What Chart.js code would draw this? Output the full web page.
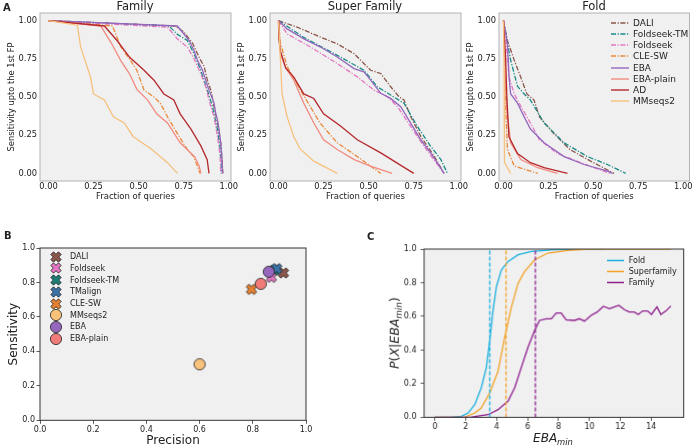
<!DOCTYPE html>
<html>
<head>
<meta charset="utf-8">
<script src="https://cdn.jsdelivr.net/npm/chart.js@4.4.1/dist/chart.umd.min.js"></script>
<style>
  body { margin: 0; background: #fff; font-family: "DejaVu Sans", sans-serif; color: #222; }
  #fig { position: relative; width: 700px; height: 447px; overflow: hidden; }
  .box { position: absolute; }
  .txt { position: absolute; white-space: nowrap; line-height: 1; }
  .ttl { position: absolute; white-space: nowrap; line-height: 1; font-size: 11.5px; top: 6.5px; transform: translate(-50%, -50%); }
  .row { position: absolute; display: flex; align-items: center; white-space: nowrap; transform: translateY(-50%); }
  sub { font-size: 70%; vertical-align: -0.3em; line-height: 0; }
</style>
</head>
<body>
<div id="fig">
  <div class="box" style="left:2.5px;top:0;width:238px;height:202px"><canvas id="cFamily"></canvas></div>
  <div class="box" style="left:232.5px;top:0;width:238px;height:202px"><canvas id="cSuper"></canvas></div>
  <div class="box" style="left:461.5px;top:0;width:237.5px;height:202px"><canvas id="cFold"></canvas></div>
  <div class="box" style="left:0;top:240.7px;width:316px;height:206.3px"><canvas id="cPrec"></canvas></div>
  <div class="box" style="left:396px;top:243.3px;width:296.7px;height:188.4px"><canvas id="cEba"></canvas></div>

  <div class="ttl" style="left:135px">Family</div>
  <div class="ttl" style="left:365px">Super Family</div>
  <div class="ttl" style="left:594px">Fold</div>
  <div class="txt" style="left:3px;top:3px;font-size:10px;font-weight:bold">A</div>
  <div class="txt" style="left:4px;top:231px;font-size:10px;font-weight:bold">B</div>
  <div class="txt" style="left:367px;top:232px;font-size:10px;font-weight:bold">C</div>
  <div class="txt" style="left:553px;top:438px;font-size:12px;font-style:italic;transform:translate(-50%,-50%)">EBA<sub>min</sub></div>
  <div class="txt" style="left:395px;top:333px;font-size:12.5px;transform:translate(-50%,-50%) rotate(-90deg)"><i>P</i>(<i>X</i>|<i>EBA</i><sub><i>min</i></sub>)</div>
</div>
<script>
// ---- panel A: sensitivity up to the 1st FP vs fraction of queries ----
const methodsA = ['DALI', 'Foldseek-TM', 'Foldseek', 'CLE-SW', 'EBA', 'EBA-plain', 'AD', 'MMseqs2'];
const colorsA = ['#8c564b', '#1a8c86', '#e377c2', '#e8883a', '#9467bd', '#f28a80', '#b5282c', '#f6c17d'];
const dashA = [true, true, true, true, false, false, false, false];
const tickA = [0, 0.25, 0.5, 0.75, 1];

// [fraction of queries, sensitivity]
const familyDALI = [[0,1],[0.70,0.965],[0.752,0.924],[0.80,0.85],[0.835,0.76],[0.863,0.70],[0.881,0.61],[0.90,0.545],[0.918,0.437],[0.937,0.33],[0.955,0.20],[0.962,0.10],[0.967,0]];
const familyFoldseekTM = [[0,1],[0.668,0.965],[0.715,0.91],[0.77,0.87],[0.807,0.784],[0.844,0.675],[0.881,0.545],[0.909,0.437],[0.937,0.286],[0.952,0.156],[0.96,0]];
const familyFoldseek = [[0,1],[0.66,0.957],[0.715,0.88],[0.77,0.827],[0.807,0.75],[0.844,0.654],[0.872,0.567],[0.90,0.437],[0.918,0.372],[0.937,0.242],[0.952,0.113],[0.955,0]];
const familyCLESW = [[0,1],[0.355,0.965],[0.40,0.83],[0.455,0.74],[0.49,0.675],[0.53,0.545],[0.585,0.50],[0.62,0.46],[0.66,0.37],[0.715,0.26],[0.77,0.155],[0.805,0.11],[0.825,0.05],[0.84,0]];
const familyEBA = [[0,1],[0.715,0.965],[0.752,0.911],[0.78,0.87],[0.807,0.805],[0.826,0.74],[0.854,0.675],[0.872,0.61],[0.89,0.545],[0.909,0.49],[0.918,0.46],[0.927,0.394],[0.937,0.35],[0.946,0.286],[0.955,0.2],[0.961,0.113],[0.965,0]];
const familyEBAplain = [[0,1],[0.29,0.965],[0.35,0.85],[0.40,0.74],[0.45,0.65],[0.49,0.55],[0.55,0.48],[0.60,0.39],[0.66,0.33],[0.73,0.20],[0.81,0.11],[0.835,0.05],[0.845,0]];
const familyAD = [[0,1],[0.31,0.965],[0.38,0.87],[0.45,0.76],[0.53,0.675],[0.585,0.61],[0.64,0.52],[0.695,0.48],[0.73,0.39],[0.79,0.29],[0.845,0.18],[0.88,0.09],[0.89,0]];
const familyMMseqs2 = [[0,1],[0.16,0.97],[0.178,0.83],[0.233,0.63],[0.25,0.52],[0.31,0.48],[0.36,0.37],[0.42,0.33],[0.47,0.24],[0.57,0.16],[0.66,0.07],[0.715,0]];

const superDALI = [[0,1],[0.104,0.957],[0.233,0.892],[0.326,0.848],[0.419,0.784],[0.511,0.675],[0.567,0.654],[0.622,0.567],[0.668,0.502],[0.696,0.48],[0.733,0.372],[0.789,0.242],[0.863,0.113],[0.918,0]];
const superFoldseekTM = [[0,1],[0.141,0.89],[0.326,0.773],[0.474,0.675],[0.548,0.567],[0.622,0.513],[0.696,0.459],[0.77,0.307],[0.844,0.177],[0.90,0.091],[0.937,0]];
const superFoldseek = [[0,1],[0.048,0.913],[0.178,0.827],[0.326,0.719],[0.437,0.632],[0.53,0.545],[0.604,0.502],[0.66,0.437],[0.733,0.307],[0.807,0.177],[0.918,0]];
const superCLESW = [[0,1],[0.011,0.85],[0.048,0.70],[0.10,0.59],[0.155,0.48],[0.23,0.33],[0.326,0.20],[0.437,0.11],[0.51,0.048],[0.567,0]];
const superEBA = [[0,1],[0.048,0.946],[0.141,0.881],[0.233,0.827],[0.326,0.762],[0.419,0.686],[0.474,0.665],[0.511,0.61],[0.567,0.524],[0.622,0.491],[0.678,0.437],[0.733,0.329],[0.789,0.22],[0.844,0.134],[0.881,0.069],[0.918,0]];
const superEBAplain = [[0,1],[0.011,0.78],[0.04,0.69],[0.085,0.61],[0.14,0.46],[0.196,0.33],[0.25,0.22],[0.326,0.156],[0.42,0.09],[0.51,0.048],[0.63,0]];
const superAD = [[0,1],[0.002,0.88],[0.011,0.80],[0.04,0.69],[0.085,0.63],[0.14,0.52],[0.196,0.49],[0.25,0.39],[0.344,0.31],[0.437,0.22],[0.567,0.134],[0.75,0]];
const superMMseqs2 = [[0,1],[0.011,0.74],[0.02,0.52],[0.048,0.37],[0.085,0.24],[0.12,0.16],[0.196,0.08],[0.326,0]];

const foldDALI = [[0,1],[0.022,0.87],[0.06,0.74],[0.096,0.63],[0.13,0.52],[0.17,0.48],[0.20,0.37],[0.28,0.26],[0.37,0.156],[0.485,0.08],[0.615,0]];
const foldFoldseekTM = [[0,1],[0.022,0.85],[0.04,0.74],[0.078,0.57],[0.115,0.52],[0.15,0.48],[0.226,0.33],[0.337,0.20],[0.467,0.11],[0.578,0.058],[0.68,0]];
const foldFoldseek = [[0,1],[0.015,0.85],[0.031,0.63],[0.06,0.52],[0.096,0.44],[0.15,0.33],[0.20,0.22],[0.30,0.13],[0.43,0.07],[0.59,0]];
const foldCLESW = [[0,1],[0.008,0.75],[0.013,0.42],[0.022,0.156],[0.06,0.048],[0.19,0]];
const foldEBA = [[0,1],[0.022,0.85],[0.031,0.63],[0.04,0.52],[0.078,0.46],[0.115,0.37],[0.15,0.29],[0.226,0.20],[0.337,0.11],[0.448,0.058],[0.58,0.015],[0.605,0]];
const foldEBAplain = [[0,1],[0.012,0.6],[0.018,0.42],[0.04,0.20],[0.096,0.09],[0.19,0.037],[0.30,0]];
const foldAD = [[0,1],[0.012,0.75],[0.018,0.52],[0.03,0.24],[0.078,0.13],[0.15,0.07],[0.226,0.037],[0.356,0]];
const foldMMseqs2 = [[0,1],[0.003,0.7],[0.004,0.42],[0.007,0.07],[0.04,0]];

// ---- panel B: precision / sensitivity per method ----
const methodsB = ['DALI', 'Foldseek', 'Foldseek-TM', 'TMalign', 'CLE-SW', 'MMseqs2', 'EBA', 'EBA-plain'];
const precisionB = [0.915, 0.87, 0.882, 0.89, 0.795, 0.60, 0.86, 0.83];
const sensitivityB = [0.855, 0.83, 0.872, 0.88, 0.76, 0.325, 0.862, 0.792];
const markersB = ['X', 'X', 'X', 'X', 'X', 'o', 'o', 'o'];
const colorsB = ['#8c564b', '#e377c2', '#1b7f78', '#3a74a8', '#e8812f', '#f7c27c', '#9467bd', '#f07b78'];
const tickB = [0, 0.2, 0.4, 0.6, 0.8, 1];

// ---- panel C: P(X | EBA_min) ----
const levelsC = ['Fold', 'Superfamily', 'Family'];
const colorsC = ['#1cb0e0', '#f3a226', '#8e1e8e'];
const foldC = [[0,0],[1.0,0],[1.72,0.006],[2.15,0.026],[2.58,0.076],[3.0,0.176],[3.33,0.296],[3.55,0.456],[3.76,0.636],[3.98,0.776],[4.3,0.876],[4.73,0.926],[5.38,0.966],[6.24,0.986],[7.74,0.996],[9.9,1.0],[11.0,1.0]];
const superC = [[0,0],[1.3,0],[1.94,0.002],[2.58,0.026],[3.0,0.056],[3.55,0.146],[4.09,0.276],[4.52,0.476],[4.95,0.656],[5.38,0.796],[5.8,0.866],[6.45,0.936],[7.3,0.976],[8.6,0.992],[9.9,1.0],[15.27,1.0]];
const familyC = [[0,0],[2.37,0.002],[3.44,0.016],[4.09,0.046],[4.73,0.096],[5.16,0.176],[5.59,0.296],[6.02,0.416],[6.45,0.516],[6.77,0.576],[7.2,0.586],[7.53,0.586],[7.85,0.62],[8.17,0.62],[8.49,0.58],[9.03,0.576],[9.35,0.586],[9.68,0.572],[10.1,0.606],[10.5,0.626],[10.9,0.66],[11.3,0.646],[11.6,0.656],[11.9,0.666],[12.26,0.64],[12.58,0.626],[12.9,0.626],[13.16,0.612],[13.44,0.632],[13.76,0.632],[14.02,0.612],[14.37,0.656],[14.62,0.612],[14.95,0.632],[15.27,0.662]];
const cutoffsC = [3.55, 4.6, 6.5];
const tickCx = [0, 2, 4, 6, 8, 10, 12, 14];
const tickCy = [0, 0.2, 0.4, 0.6, 0.8, 1];

const FONT = 'DejaVu Sans';
const INK = '#222';

// plot background and full box around the chart area
Chart.register({
  id: 'frame',
  beforeDraw(chart, args, opts) {
    const a = chart.chartArea, ctx = chart.ctx;
    ctx.save();
    ctx.fillStyle = opts.bg || '#f0f0f0';
    ctx.fillRect(a.left, a.top, a.width, a.height);
    ctx.restore();
  },
  afterDraw(chart, args, opts) {
    const a = chart.chartArea, ctx = chart.ctx;
    ctx.save();
    ctx.strokeStyle = opts.color || '#333';
    ctx.lineWidth = 1;
    ctx.strokeRect(a.left, a.top, a.width, a.height);
    ctx.restore();
  }
});

Chart.defaults.font.family = FONT;
Chart.defaults.color = INK;
Chart.defaults.animation = false;
Chart.defaults.events = [];
Chart.defaults.plugins.legend.display = false;
Chart.defaults.plugins.tooltip.enabled = false;

// fixed axis sizes so chart areas land where the reference has them
const fixW = w => s => { s.width = w; s.paddingTop = s.paddingBottom = s.paddingLeft = s.paddingRight = 0; };
const fixH = h => s => { s.height = h; s.paddingTop = s.paddingBottom = s.paddingLeft = s.paddingRight = 0; };
const setTicks = vals => s => { s.ticks = vals.map(v => ({ value: v })); };

const toXY = pts => pts.map(([x, y]) => ({ x, y }));

function curvePanel(id, curves, xRange) {
  return new Chart(document.getElementById(id), {
    type: 'line',
    data: {
      datasets: curves.map((pts, i) => ({
        label: methodsA[i],
        data: toXY(pts),
        borderColor: colorsA[i],
        borderWidth: 1.3,
        borderDash: dashA[i] ? [5, 1.6, 1.2, 1.6] : [],
        pointRadius: 0,
        tension: 0,
        order: curves.length - i
      }))
    },
    options: {
      responsive: true,
      maintainAspectRatio: false,
      layout: { padding: { top: 13, right: 10, left: 0, bottom: 0 } },
      plugins: { frame: { bg: '#f0f0f0', color: '#b4b4b4' } },
      scales: {
        x: {
          type: 'linear', min: xRange[0], max: xRange[1],
          afterBuildTicks: setTicks(tickA), afterFit: fixH(21),
          grid: { display: false, drawTicks: false }, border: { display: false },
          ticks: { callback: v => v.toFixed(2), font: { size: 8.3 }, padding: 1, maxRotation: 0, autoSkip: false },
          title: { display: true, text: 'Fraction of queries', font: { size: 8.5 }, padding: 0 }
        },
        y: {
          type: 'linear', min: -0.05, max: 1.05,
          afterBuildTicks: setTicks(tickA), afterFit: fixW(37),
          grid: { display: false, drawTicks: false }, border: { display: false },
          ticks: { callback: v => v.toFixed(2), font: { size: 8.3 }, padding: 3, autoSkip: false },
          title: { display: true, text: 'Sensitivity upto the 1st FP', font: { size: 8.3 }, padding: 4 }
        }
      }
    }
  });
}

curvePanel('cFamily',
  [familyDALI, familyFoldseekTM, familyFoldseek, familyCLESW, familyEBA, familyEBAplain, familyAD, familyMMseqs2],
  [-0.047, 1.012]);
curvePanel('cSuper',
  [superDALI, superFoldseekTM, superFoldseek, superCLESW, superEBA, superEBAplain, superAD, superMMseqs2],
  [-0.047, 1.012]);
const foldChart = curvePanel('cFold',
  [foldDALI, foldFoldseekTM, foldFoldseek, foldCLESW, foldEBA, foldEBAplain, foldAD, foldMMseqs2],
  [-0.025, 1.035]);

// marker images: filled "X" or circle with a dark edge
function markerImg(shape, color) {
  const c = document.createElement('canvas');
  c.width = c.height = 14;
  const g = c.getContext('2d');
  g.translate(7, 7);
  g.fillStyle = color;
  g.strokeStyle = '#222';
  g.lineWidth = 0.8;
  g.beginPath();
  if (shape === 'o') {
    g.arc(0, 0, 5.6, 0, Math.PI * 2);
  } else {
    const a = 5.4, w = 1.9;
    const pts = [[-w,-a],[w,-a],[w,-w],[a,-w],[a,w],[w,w],[w,a],[-w,a],[-w,w],[-a,w],[-a,-w],[-w,-w]];
    g.rotate(Math.PI / 4);
    pts.forEach(([x, y], i) => i ? g.lineTo(x, y) : g.moveTo(x, y));
    g.closePath();
  }
  g.fill();
  g.stroke();
  return c;
}
const imgsB = markersB.map((m, i) => markerImg(m, colorsB[i]));

const precChart = new Chart(document.getElementById('cPrec'), {
  type: 'scatter',
  data: {
    datasets: methodsB.map((m, i) => ({
      label: m,
      data: [{ x: precisionB[i], y: sensitivityB[i] }],
      pointStyle: imgsB[i],
      pointRadius: 6,
      order: methodsB.length - i
    }))
  },
  options: {
    responsive: true,
    maintainAspectRatio: false,
    layout: { padding: { top: 6, right: 10, left: 0, bottom: 0 } },
    plugins: { frame: { bg: '#f0f0f0', color: '#333' } },
    scales: {
      x: {
        type: 'linear', min: 0, max: 1, afterBuildTicks: setTicks(tickB), afterFit: fixH(27),
        grid: { drawOnChartArea: false, tickLength: 3.5, color: '#333', lineWidth: 0.8 }, border: { display: false },
        ticks: { callback: v => v.toFixed(1), font: { size: 8 }, padding: 1.5, maxRotation: 0 },
        title: { display: true, text: 'Precision', font: { size: 12 }, padding: -1 }
      },
      y: {
        type: 'linear', min: 0, max: 1, afterBuildTicks: setTicks(tickB), afterFit: fixW(40),
        grid: { drawOnChartArea: false, tickLength: 3.5, color: '#333', lineWidth: 0.8 }, border: { display: false },
        ticks: { callback: v => v.toFixed(1), font: { size: 8 }, padding: 1.5 },
        title: { display: true, text: 'Sensitivity', font: { size: 12 }, padding: 7 }
      }
    }
  }
});

const cutLine = (x, i) => ({
  data: [{ x, y: 0 }, { x, y: 1 }],
  borderColor: colorsC[i], borderWidth: 1.3, borderDash: [4, 2], pointRadius: 0, order: 0
});

const ebaChart = new Chart(document.getElementById('cEba'), {
  type: 'line',
  data: {
    datasets: [foldC, superC, familyC].map((pts, i) => ({
      label: levelsC[i],
      data: toXY(pts),
      borderColor: colorsC[i],
      borderWidth: 1.3,
      pointRadius: 0,
      tension: 0,
      order: 3 - i
    })).concat(cutoffsC.map(cutLine))
  },
  options: {
    responsive: true,
    maintainAspectRatio: false,
    layout: { padding: { top: 6, right: 10, left: 0, bottom: 0 } },
    plugins: { frame: { bg: '#f0f0f0', color: '#333' } },
    scales: {
      x: {
        type: 'linear', min: -0.7, max: 16.1, afterBuildTicks: setTicks(tickCx), afterFit: fixH(15),
        grid: { drawOnChartArea: false, tickLength: 3.5, color: '#333', lineWidth: 0.8 }, border: { display: false },
        ticks: { font: { size: 8 }, padding: 1, maxRotation: 0, autoSkip: false }
      },
      y: {
        type: 'linear', min: 0, max: 1, afterBuildTicks: setTicks(tickCy), afterFit: fixW(28),
        grid: { drawOnChartArea: false, tickLength: 3.5, color: '#333', lineWidth: 0.8 }, border: { display: false },
        ticks: { callback: v => v.toFixed(1), font: { size: 8 }, padding: 4 }
      }
    }
  }
});

// ---- HTML legends built from the chart datasets ----
const fig = document.getElementById('fig');
function lineLegend(chart, left, top, step, size, sampleW, gap) {
  chart.data.datasets.filter(ds => ds.label).forEach((ds, i) => {
    const row = document.createElement('div');
    row.className = 'row';
    row.style.left = left + 'px';
    row.style.top = (top + i * step) + 'px';
    row.style.fontSize = size + 'px';
    const dash = (ds.borderDash || []).join(' ');
    row.innerHTML = `<svg width="${sampleW}" height="4" style="margin-right:${gap}px"><line x1="0" y1="2" x2="${sampleW}" y2="2" stroke="${ds.borderColor}" stroke-width="1.4" ${dash ? `stroke-dasharray="${dash}"` : ''}/></svg><span>${ds.label}</span>`;
    fig.appendChild(row);
  });
}
lineLegend(foldChart, 611, 22.7, 11.2, 9, 18, 4);
lineLegend(ebaChart, 606.7, 260, 11.2, 8, 17, 5);

precChart.data.datasets.forEach((ds, i) => {
  const row = document.createElement('div');
  row.className = 'row';
  row.style.left = '49px';
  row.style.top = (256.7 + i * 11.7) + 'px';
  row.style.fontSize = '8px';
  row.innerHTML = `<img src="${ds.pointStyle.toDataURL()}" width="14" height="14" style="margin-right:7px"><span>${ds.label}</span>`;
  fig.appendChild(row);
});
</script>
</body>
</html>
